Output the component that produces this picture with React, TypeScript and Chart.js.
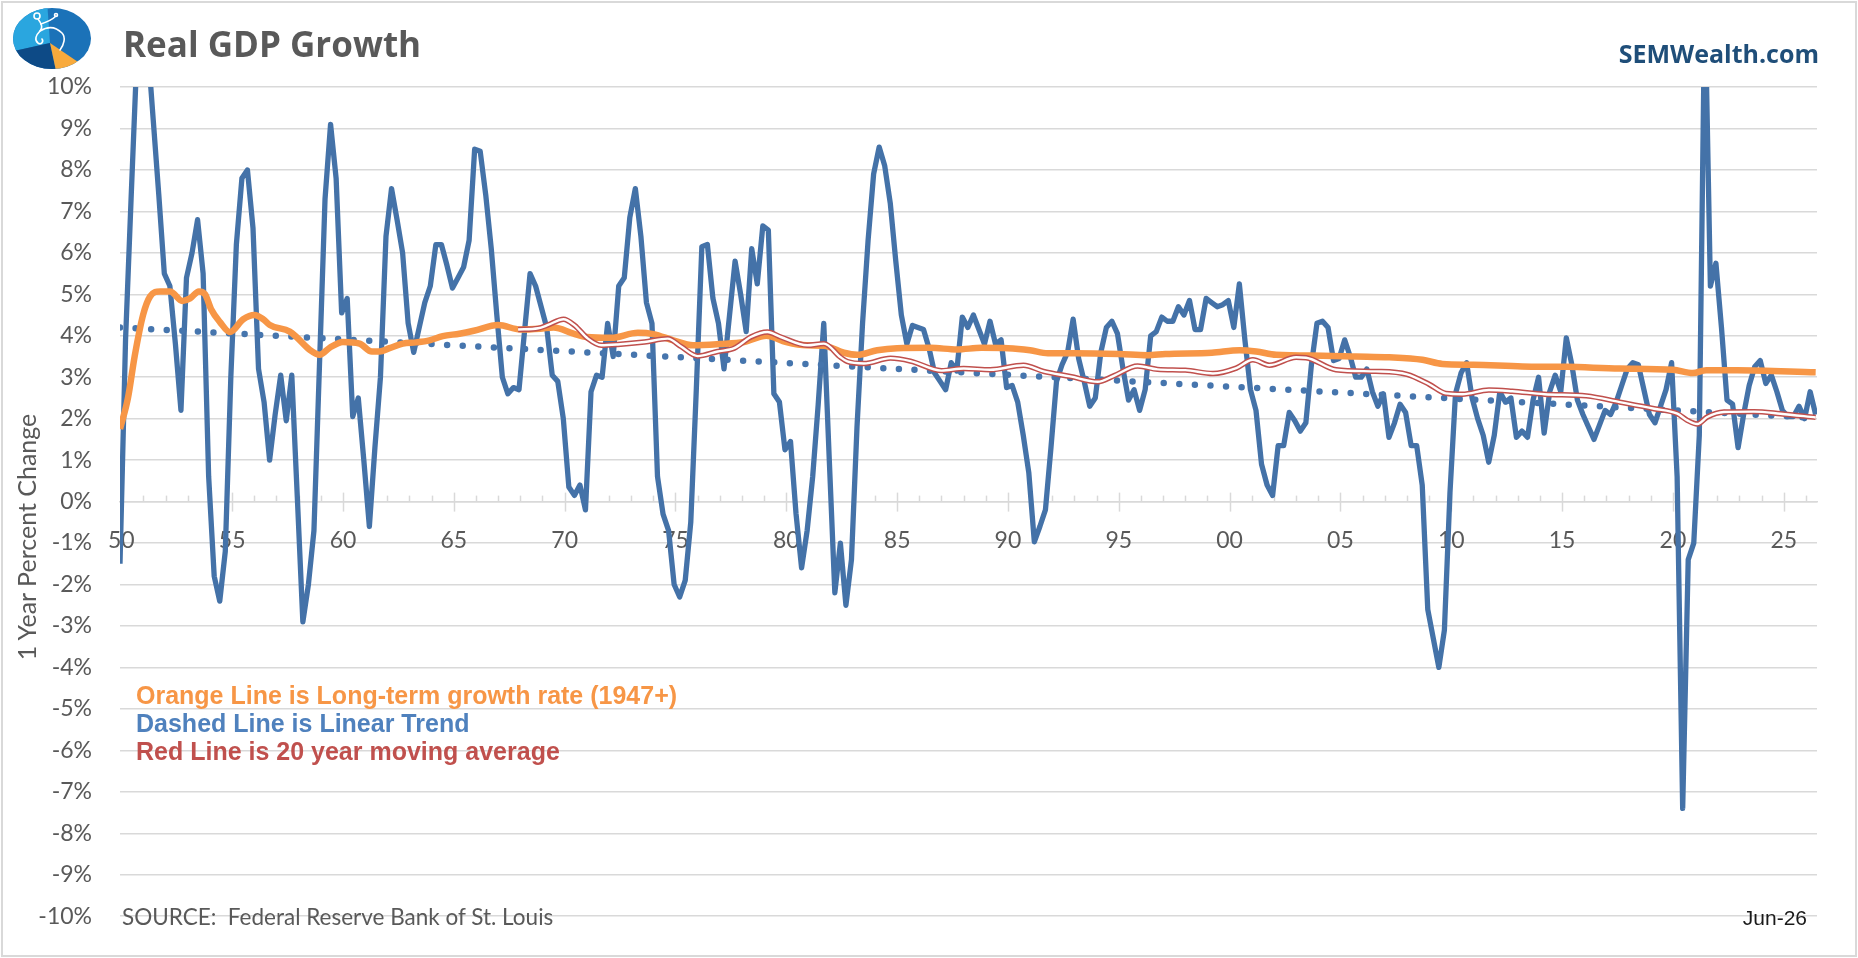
import React, { useEffect, useRef } from "react";
import { Chart, registerables } from "chart.js";

Chart.register(...registerables);

// ---------- DATA ----------
// Real GDP, % change from a year earlier, quarterly, first observation Q4 1949, last Q2 2026
const FIRST_QUARTER = 1949.94;
const QUARTER_STEP = 0.25;
const gdpGrowth: number[] = [
  -1.5,
  3.9, 7.3, 10.6, 13.3, // 1950
  11.0, 9.2, 7.4, 5.5, // 1951
  5.2, 3.8, 2.2, 5.4, // 1952
  6.0, 6.8, 5.5, 0.6, // 1953
  -1.8, -2.4, -1.2, 3.0, // 1954
  6.2, 7.8, 8.0, 6.6, // 1955
  3.2, 2.4, 1.0, 2.1, // 1956
  3.05, 1.95, 3.05, 0.1, // 1957
  -2.9, -2.0, -0.7, 3.3, // 1958
  7.3, 9.1, 7.8, 4.55, // 1959
  4.9, 2.05, 2.5, 1.0, // 1960
  -0.6, 1.3, 3.0, 6.4, // 1961
  7.55, 6.8, 6.0, 4.3, // 1962
  3.6, 4.2, 4.8, 5.2, // 1963
  6.2, 6.2, 5.7, 5.15, // 1964
  5.4, 5.65, 6.3, 8.5, // 1965
  8.45, 7.4, 6.1, 4.5, // 1966
  3.0, 2.6, 2.75, 2.7, // 1967
  4.1, 5.5, 5.2, 4.7, // 1968
  4.2, 3.05, 2.9, 2.0, // 1969
  0.35, 0.15, 0.4, -0.2, // 1970
  2.65, 3.05, 3.0, 4.3, // 1971
  3.5, 5.2, 5.4, 6.85, // 1972
  7.55, 6.4, 4.8, 4.3, // 1973
  0.6, -0.3, -0.7, -2.0, // 1974
  -2.3, -1.9, -0.5, 2.7, // 1975
  6.15, 6.2, 4.9, 4.3, // 1976
  3.2, 4.5, 5.8, 5.0, // 1977
  4.1, 6.1, 5.25, 6.65, // 1978
  6.55, 2.6, 2.4, 1.25, // 1979
  1.45, -0.3, -1.6, -0.7, // 1980
  0.6, 2.35, 4.3, 1.0, // 1981
  -2.2, -1.0, -2.5, -1.4, // 1982
  1.8, 4.3, 6.3, 7.9, // 1983
  8.55, 8.1, 7.2, 5.8, // 1984
  4.5, 3.8, 4.25, 4.2, // 1985
  4.15, 3.7, 3.1, 2.9, // 1986
  2.7, 3.35, 3.15, 4.45, // 1987
  4.2, 4.5, 4.15, 3.8, // 1988
  4.35, 3.8, 3.9, 2.75, // 1989
  2.8, 2.4, 1.6, 0.7, // 1990
  -0.97, -0.6, -0.2, 1.3, // 1991
  2.9, 3.3, 3.6, 4.4, // 1992
  3.45, 2.9, 2.3, 2.5, // 1993
  3.6, 4.2, 4.35, 4.05, // 1994
  3.2, 2.45, 2.7, 2.2, // 1995
  2.7, 4.0, 4.1, 4.45, // 1996
  4.35, 4.35, 4.7, 4.5, // 1997
  4.85, 4.15, 4.15, 4.9, // 1998
  4.8, 4.7, 4.75, 4.85, // 1999
  4.2, 5.25, 3.9, 2.7, // 2000
  2.2, 0.9, 0.4, 0.15, // 2001
  1.35, 1.35, 2.15, 1.95, // 2002
  1.7, 1.9, 3.3, 4.3, // 2003
  4.35, 4.2, 3.4, 3.45, // 2004
  3.9, 3.5, 3.0, 3.0, // 2005
  3.2, 2.65, 2.3, 2.6, // 2006
  1.55, 1.9, 2.35, 2.15, // 2007
  1.35, 1.35, 0.4, -2.6, // 2008
  -3.3, -4.0, -3.1, 0.2, // 2009
  2.6, 3.1, 3.35, 2.5, // 2010
  2.0, 1.6, 0.95, 1.6, // 2011
  2.65, 2.4, 2.5, 1.55, // 2012
  1.7, 1.55, 2.45, 3.0, // 2013
  1.65, 2.65, 3.05, 2.65, // 2014
  3.95, 3.3, 2.45, 2.1, // 2015
  1.8, 1.5, 1.85, 2.2, // 2016
  2.1, 2.4, 2.8, 3.2, // 2017
  3.35, 3.3, 2.7, 2.1, // 2018
  1.9, 2.3, 2.7, 3.35, // 2019
  0.6, -7.4, -1.4, -1.0, // 2020
  1.6, 12.2, 5.2, 5.75, // 2021
  4.2, 2.45, 2.35, 1.3, // 2022
  2.1, 2.8, 3.25, 3.4, // 2023
  2.85, 3.05, 2.65, 2.2, // 2024
  2.05, 2.05, 2.3, 2.0, // 2025
  2.65, 2.1, // 2026
];

// Long-term (1947+) growth rate, read at points along the orange line
const orangeYears = [
  1949.94, 1950.3, 1950.6, 1950.98, 1951.3, 1951.75, 1952.2, 1952.75, 1953.1, 1953.5,
  1953.78, 1954.05, 1954.45, 1954.9, 1955.5, 1956.0, 1956.4, 1956.7, 1957.6, 1957.9,
  1958.5, 1958.95, 1959.4, 1960.0, 1960.75, 1961.3, 1961.65, 1962.1, 1962.7, 1963.3,
  1963.9, 1964.5, 1965.25, 1965.9, 1967.0, 1968.0, 1968.9, 1969.5, 1970.4, 1971.0,
  1972.1, 1973.3, 1974.0, 1974.9, 1975.8, 1977.0, 1978.1, 1979.1, 1980.0, 1980.9,
  1981.7, 1982.6, 1983.2, 1984.1, 1985.0, 1986.5, 1987.7, 1988.8, 1990.0, 1991.0,
  1991.8, 1993.0, 1995.0, 1996.3, 1997.1, 1999.2, 2000.45, 2001.2, 2002.1, 2004.2,
  2005.7, 2007.2, 2008.7, 2009.6, 2011.0, 2013.2, 2015.2, 2017.6, 2020.0, 2020.9,
  2021.5, 2022.9, 2026.44,
];
const orangeValues = [
  1.75, 2.5, 3.5, 4.5, 4.95, 5.07, 5.07, 4.84, 4.9, 5.07,
  5.0, 4.64, 4.33, 4.09, 4.4, 4.5, 4.4, 4.26, 4.1, 3.97,
  3.66, 3.54, 3.71, 3.85, 3.81, 3.62, 3.62, 3.7, 3.81, 3.84,
  3.89, 3.99, 4.05, 4.12, 4.26, 4.15, 4.17, 4.2, 4.05, 3.97,
  3.95, 4.07, 4.04, 3.89, 3.77, 3.8, 3.85, 4.0, 3.85, 3.77,
  3.76, 3.59, 3.54, 3.65, 3.7, 3.71, 3.67, 3.71, 3.7, 3.65,
  3.58, 3.58, 3.56, 3.53, 3.56, 3.59, 3.65, 3.62, 3.54, 3.52,
  3.5, 3.48, 3.42, 3.32, 3.3, 3.26, 3.25, 3.21, 3.18, 3.1,
  3.17, 3.17, 3.12,
];

// 20 year moving average, read at points along the red line
const redYears = [
  1967.9, 1968.8, 1969.25, 1969.95, 1970.45, 1971.05, 1971.65, 1972.4, 1973.6, 1974.65,
  1975.25, 1976.0, 1976.9, 1977.65, 1978.4, 1979.15, 1979.75, 1980.95, 1981.7, 1982.45,
  1982.75, 1983.5, 1984.7, 1985.6, 1987.0, 1988.0, 1989.2, 1990.7, 1991.6, 1992.8,
  1994.05, 1994.8, 1995.85, 1996.75, 1998.0, 1999.25, 2000.3, 2001.05, 2001.8, 2003.0,
  2003.45, 2004.8, 2006.6, 2008.0, 2009.0, 2009.75, 2010.5, 2011.7, 2012.75, 2014.2,
  2016.1, 2017.6, 2019.15, 2020.2, 2020.65, 2021.1, 2021.55, 2022.3, 2023.65, 2024.85,
  2026.44,
];
const redValues = [
  4.15, 4.18, 4.26, 4.4, 4.25, 3.93, 3.77, 3.79, 3.85, 3.93,
  3.74, 3.51, 3.62, 3.7, 3.97, 4.09, 3.97, 3.77, 3.81, 3.48,
  3.38, 3.33, 3.46, 3.39, 3.16, 3.21, 3.18, 3.29, 3.14, 3.02,
  2.89, 3.04, 3.27, 3.19, 3.17, 3.09, 3.22, 3.42, 3.29, 3.48,
  3.47, 3.18, 3.14, 3.07, 2.83, 2.61, 2.59, 2.69, 2.66, 2.59,
  2.55, 2.4, 2.24, 2.12, 1.96, 1.87, 2.04, 2.16, 2.17, 2.12,
  2.03,
];

// Linear trend of the GDP series (end points)
const trendYears = [1949.94, 2026.44];
const trendValues = [4.2, 2.02];

// Axes
const X_MIN = 1949.94;
const X_MAX = 2026.5;
const xTickYears = [1950, 1955, 1960, 1965, 1970, 1975, 1980, 1985, 1990, 1995, 2000, 2005, 2010, 2015, 2020, 2025];
const xTickLabels = ["50", "55", "60", "65", "70", "75", "80", "85", "90", "95", "00", "05", "10", "15", "20", "25"];
const xMinorYears = Array.from({ length: 76 }, (_, i) => 1951 + i);
const Y_MIN = -10;
const Y_MAX = 10;

// ---------- STYLE ----------
const GRID = "#d9d9d9";
const TEXT = "#595959";
const BLUE = "#4472a8";
const ORANGE = "#f79646";
const RED = "#c0504d";

const pairs = (xs: number[], ys: number[]) => xs.map((x, i) => ({ x, y: ys[i] }));

const axisTicksPlugin = {
  id: "axisTicks",
  beforeDatasetsDraw(chart: any) {
    const { ctx, scales } = chart;
    const xs = scales.x;
    const y0 = scales.y.getPixelForValue(0);
    ctx.save();
    ctx.strokeStyle = GRID;
    ctx.lineWidth = 1.5;
    for (const yr of xMinorYears) {
      const px = Math.round(xs.getPixelForValue(yr)) + 0.5;
      const major = xTickYears.includes(yr);
      ctx.beginPath();
      ctx.moveTo(px, major ? y0 - 9 : y0 - 6);
      ctx.lineTo(px, major ? y0 + 10 : y0);
      ctx.stroke();
    }
    ctx.restore();
  },
};

function Logo() {
  return (
    <svg width="100" height="80" style={{ position: "absolute", left: 0, top: 0 }}>
      <defs>
        <clipPath id="logoClip">
          <ellipse cx="52" cy="38.5" rx="39" ry="30.5" />
        </clipPath>
      </defs>
      <g clipPath="url(#logoClip)">
        <rect x="0" y="0" width="100" height="80" fill="#1b72b8" />
        <polygon points="47,0 50,43 0,54 0,0" fill="#2aa6df" />
        <polygon points="0,54 50,43 58,80 0,80" fill="#0d4a86" />
        <polygon points="50,43 58,80 84,66" fill="#f8aa3c" />
      </g>
      <g fill="none" stroke="#ffffff" strokeWidth="1.6" strokeLinecap="round">
        <circle cx="37" cy="16" r="3" />
        <path d="M38,19 C42,24 43,28 40,31 C36,35 34,40 38,43 C41,45 44,42 42,39" />
        <path d="M40,31 C48,26 56,27 62,33 C66,37 64,45 60,50" />
        <path d="M41,24 C47,22 52,20 56,16" />
        <circle cx="56" cy="15" r="1.5" />
      </g>
    </svg>
  );
}

export default function App() {
  const canvasRef = useRef<HTMLCanvasElement | null>(null);

  useEffect(() => {
    document.body.style.margin = "0";
    if (!canvasRef.current) return;
    const blueData = gdpGrowth.map((v, i) => ({ x: FIRST_QUARTER + i * QUARTER_STEP, y: v }));
    const chart = new Chart(canvasRef.current, {
      type: "line",
      data: {
        datasets: [
          {
            label: "20yr MA inner",
            data: pairs(redYears, redValues),
            borderColor: "#ffffff",
            borderWidth: 2.4,
            pointRadius: 0,
            cubicInterpolationMode: "monotone",
            order: 0,
          },
          {
            label: "20 year moving average",
            data: pairs(redYears, redValues),
            borderColor: RED,
            borderWidth: 5.4,
            pointRadius: 0,
            cubicInterpolationMode: "monotone",
            order: 1,
          },
          {
            label: "Long-term growth rate",
            data: pairs(orangeYears, orangeValues),
            borderColor: ORANGE,
            borderWidth: 6.5,
            pointRadius: 0,
            cubicInterpolationMode: "monotone",
            order: 2,
          },
          {
            label: "Linear trend",
            data: pairs(trendYears, trendValues),
            borderColor: "#4675ad",
            borderWidth: 6.5,
            borderDash: [0, 15.6],
            borderCapStyle: "round",
            pointRadius: 0,
            order: 3,
          },
          {
            label: "Real GDP growth",
            data: blueData,
            borderColor: BLUE,
            borderWidth: 5.3,
            borderJoinStyle: "round",
            pointRadius: 0,
            tension: 0,
            clip: 0,
            order: 4,
          },
        ] as any,
      },
      options: {
        animation: false,
        responsive: false,
        events: [],
        layout: { padding: { left: 0, top: 87, right: 41, bottom: 25 } },
        plugins: { legend: { display: false }, tooltip: { enabled: false }, title: { display: false } },
        scales: {
          x: {
            type: "linear",
            position: { y: 0 } as any,
            min: X_MIN,
            max: X_MAX,
            afterBuildTicks: (scale: any) => {
              scale.ticks = xTickYears.map((v) => ({ value: v }));
            },
            ticks: {
              autoSkip: false,
              maxRotation: 0,
              padding: 25,
              color: TEXT,
              font: { family: "Lato", size: 23 },
              callback: (v: any) => xTickLabels[xTickYears.indexOf(Number(v))] ?? "",
            },
            grid: { drawOnChartArea: false, drawTicks: false },
            border: { display: true, color: GRID, width: 1.5 },
          },
          y: {
            type: "linear",
            min: Y_MIN,
            max: Y_MAX,
            afterFit: (scale: any) => {
              scale.width = 120;
            },
            ticks: {
              stepSize: 1,
              padding: 28,
              color: TEXT,
              font: { family: "Lato", size: 23 },
              callback: (v: any) => `${v}%`,
            },
            grid: { color: GRID, lineWidth: 1.5, drawTicks: false },
            border: { display: false },
          },
        },
      } as any,
      plugins: [axisTicksPlugin],
    });
    return () => chart.destroy();
  }, []);

  const abs: React.CSSProperties = { position: "absolute", whiteSpace: "nowrap", lineHeight: 1 };

  return (
    <div
      style={{
        position: "fixed",
        left: 0,
        top: 0,
        width: 1858,
        height: 958,
        background: "#ffffff",
        overflow: "hidden",
      }}
    >
      <canvas ref={canvasRef} width={1858} height={958} style={{ position: "absolute", left: 0, top: 0, width: 1858, height: 958 }} />
      <div
        style={{
          position: "absolute",
          left: 1,
          top: 1,
          width: 1856,
          height: 956,
          border: "2px solid #d9d9d9",
          boxSizing: "border-box",
          pointerEvents: "none",
        }}
      />
      <Logo />
      <div style={{ ...abs, left: 123, top: 42.6, transform: "translateY(-50%)", fontFamily: "'Open Sans'", fontWeight: 700, fontSize: 35, color: TEXT }}>
        Real GDP Growth
      </div>
      <div style={{ ...abs, right: 1858 - 1819, top: 53.3, transform: "translateY(-50%)", fontFamily: "'Open Sans'", fontWeight: 700, fontSize: 25, color: "#1f4e79" }}>
        SEMWealth.com
      </div>
      <div
        style={{
          ...abs,
          left: 26,
          top: 537,
          transform: "translate(-50%, -50%) rotate(-90deg)",
          fontFamily: "Lato",
          fontSize: 25,
          color: TEXT,
        }}
      >
        1 Year Percent Change
      </div>
      <div style={{ ...abs, left: 136, top: 695, transform: "translateY(-50%)", fontFamily: "'Liberation Sans', Arial", fontWeight: 700, fontSize: 25, color: ORANGE }}>
        Orange Line is Long-term growth rate (1947+)
      </div>
      <div style={{ ...abs, left: 136, top: 723, transform: "translateY(-50%)", fontFamily: "'Liberation Sans', Arial", fontWeight: 700, fontSize: 25, color: "#4f81bd" }}>
        Dashed Line is Linear Trend
      </div>
      <div style={{ ...abs, left: 136, top: 751, transform: "translateY(-50%)", fontFamily: "'Liberation Sans', Arial", fontWeight: 700, fontSize: 25, color: RED }}>
        Red Line is 20 year moving average
      </div>
      <div style={{ ...abs, left: 122, top: 917, transform: "translateY(-50%)", fontFamily: "Lato", fontSize: 22.5, color: TEXT }}>
        SOURCE:&nbsp; Federal Reserve Bank of St. Louis
      </div>
      <div style={{ ...abs, right: 1858 - 1807, top: 917, transform: "translateY(-50%)", fontFamily: "'Liberation Sans', Arial", fontSize: 21, color: "#1a1a1a" }}>
        Jun-26
      </div>
    </div>
  );
}
